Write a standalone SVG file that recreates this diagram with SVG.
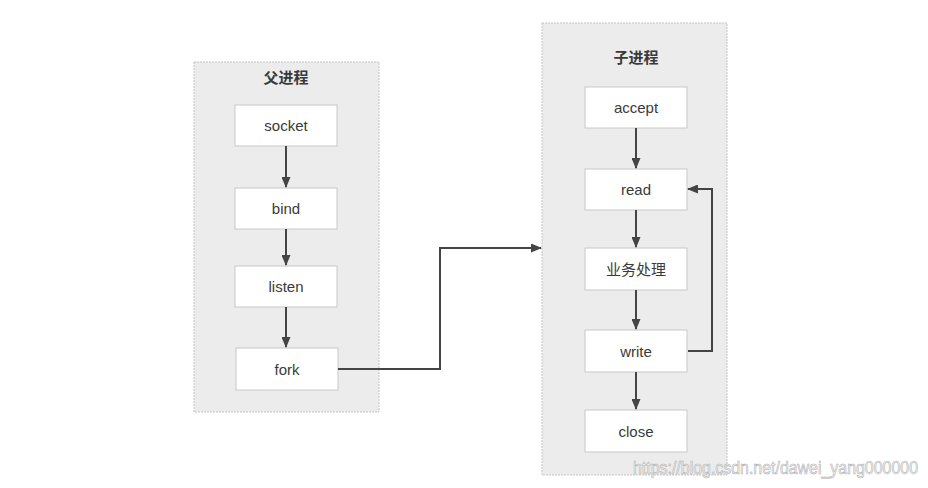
<svg xmlns="http://www.w3.org/2000/svg" width="928" height="488" viewBox="0 0 928 488">
<style>
.grp{fill:#ececec;stroke:#c4c4c4;stroke-width:1;stroke-dasharray:2 1}
.box{fill:#ffffff;stroke:#c8c8c8;stroke-width:1}
.lbl{font-family:"Liberation Sans","Noto Sans CJK SC",sans-serif;font-size:15px;fill:#3a3a3a;text-anchor:middle;dominant-baseline:central}
.ttl{font-family:"Noto Sans CJK SC","Liberation Sans",sans-serif;font-size:15px;font-weight:bold;fill:#3a3a3a;text-anchor:middle;dominant-baseline:central}
.con{fill:none;stroke:#444444;stroke-width:2}
.wm{font-family:"Liberation Sans",sans-serif;font-size:18px;fill:#f4f4f4;stroke:#b0b0b0;stroke-width:0.6}
</style>
<defs>
<marker id="ah" markerWidth="11" markerHeight="9" refX="10" refY="4.5" orient="auto" markerUnits="userSpaceOnUse">
<path d="M0,0 L11,4.5 L0,9 Z" fill="#444444"/>
</marker>
</defs>
<rect width="928" height="488" fill="#ffffff"/>
<g id="parent">
<rect class="grp" x="194" y="62" width="185" height="350"/>
<text class="ttl" x="286" y="76">父进程</text>
</g>
<g id="child">
<rect class="grp" x="542" y="23" width="185" height="452"/>
<text class="ttl" x="636" y="56">子进程</text>
</g>
<g id="socket"><rect class="box" x="235" y="105" width="102" height="41"/><text class="lbl" x="286" y="125.5">socket</text></g>
<g id="bind"><rect class="box" x="235" y="188" width="102" height="41"/><text class="lbl" x="286" y="208.5">bind</text></g>
<g id="listen"><rect class="box" x="235" y="266" width="102" height="41"/><text class="lbl" x="286" y="286.5">listen</text></g>
<g id="fork"><rect class="box" x="236" y="348" width="102" height="42"/><text class="lbl" x="287" y="369">fork</text></g>
<g id="accept"><rect class="box" x="585" y="87" width="102" height="41"/><text class="lbl" x="636" y="107.5">accept</text></g>
<g id="read"><rect class="box" x="585" y="169" width="102" height="41"/><text class="lbl" x="636" y="189.5">read</text></g>
<g id="process"><rect class="box" x="585" y="248" width="102" height="42"/><text class="lbl" x="636" y="269">业务处理</text></g>
<g id="write"><rect class="box" x="585" y="330" width="102" height="42"/><text class="lbl" x="636" y="351">write</text></g>
<g id="close"><rect class="box" x="585" y="410" width="102" height="42"/><text class="lbl" x="636" y="431">close</text></g>
<g id="connectors">
<path class="con" d="M286,146 V187" marker-end="url(#ah)"/>
<path class="con" d="M286,229 V265" marker-end="url(#ah)"/>
<path class="con" d="M286,307 V347" marker-end="url(#ah)"/>
<path class="con" d="M338,369 H440 V248 H541" marker-end="url(#ah)"/>
<path class="con" d="M636,128 V168" marker-end="url(#ah)"/>
<path class="con" d="M636,210 V247" marker-end="url(#ah)"/>
<path class="con" d="M636,290 V329" marker-end="url(#ah)"/>
<path class="con" d="M636,372 V409" marker-end="url(#ah)"/>
<path class="con" d="M688,351 H712 V189 H688" marker-end="url(#ah)"/>
</g>
<text class="wm" x="633" y="474" textLength="285" lengthAdjust="spacingAndGlyphs">https://blog.csdn.net/dawei_yang000000</text>
</svg>
